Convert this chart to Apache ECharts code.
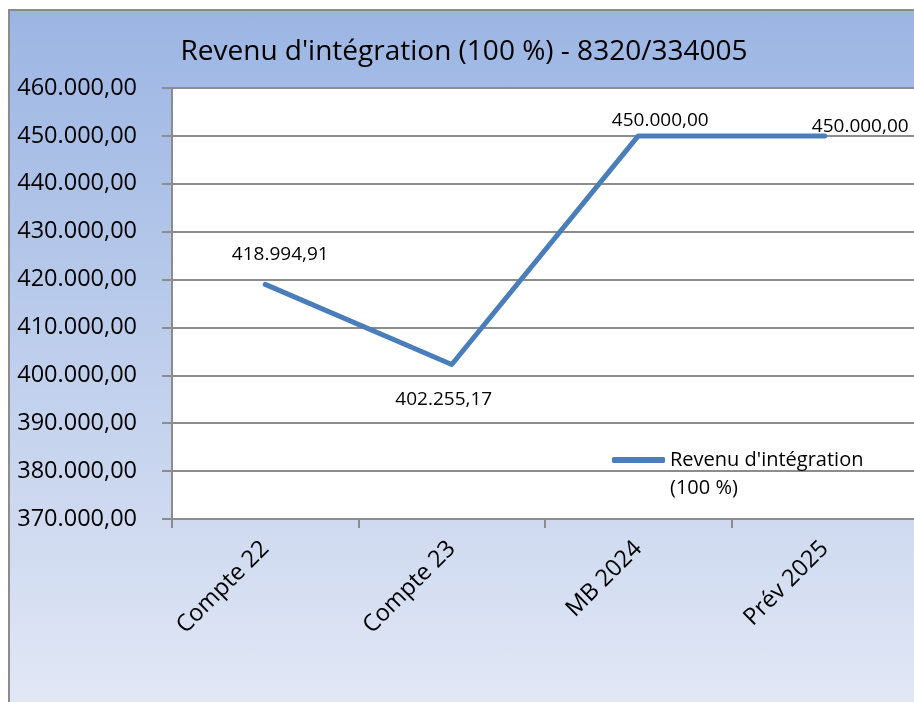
<!DOCTYPE html>
<html>
<head>
<meta charset="utf-8">
<script src="https://cdn.jsdelivr.net/npm/echarts@6/dist/echarts.min.js"></script>
<style>
  html, body { margin: 0; padding: 0; background: #fff; overflow: hidden; width: 914px; height: 702px; }
  #frame {
    position: absolute; left: 8px; top: 9px;
    border-left: 2px solid #8c8c8c; border-top: 2px solid #8c8c8c;
    width: 908px; height: 691px;
    background: linear-gradient(#9bb5e3, #e1e7f5);
  }
  #chart { width: 908px; height: 691px; }
</style>
</head>
<body>
<div id="frame"><div id="chart"></div></div>
<script>
const categories = ['Compte 22', 'Compte 23', 'MB 2024', 'Prév 2025'];
const revenue = [418994.91, 402255.17, 450000.00, 450000.00];
const seriesName = "Revenu d'intégration (100 %)";
const titleText = "Revenu d'intégration (100 %) - 8320/334005";

const fontFamily = '"Open Sans", sans-serif';

function fmt(v) {
  const parts = v.toFixed(2).split('.');
  const int = parts[0].replace(/\B(?=(\d{3})+(?!\d))/g, '.');
  return int + ',' + parts[1];
}

// label placement for each point (Excel-like)
const labelPos = [
  { position: 'top', offset: [15, -15] },
  { position: 'bottom', offset: [-8, 21] },
  { position: 'top', offset: [22, -1] },
  { position: 'right', offset: [-18, -9] }
];

const chart = echarts.init(document.getElementById('chart'));
chart.setOption({
  animation: false,
  backgroundColor: 'transparent',
  textStyle: { fontFamily: fontFamily },
  title: {
    text: titleText,
    left: 'center',
    top: 22,
    textStyle: { fontFamily: fontFamily, fontSize: 28, fontWeight: 'normal', color: '#000' }
  },
  legend: {
    left: 597,
    top: 402,
    itemWidth: 53,
    itemHeight: 6,
    itemGap: 4,
    icon: 'roundRect',
    textStyle: { fontFamily: fontFamily, fontSize: 20, color: '#000', lineHeight: 28 },
    // empty first line keeps the icon level with the first text line
    formatter: () => "\nRevenu d'intégration\n(100 %)",
    data: [seriesName]
  },
  grid: {
    left: 162, top: 77, right: 0, bottom: 183,
    show: true, backgroundColor: '#fff', borderWidth: 0
  },
  xAxis: {
    type: 'category',
    data: categories,
    boundaryGap: true,
    axisLine: { show: true, lineStyle: { color: '#8c8c8c', width: 2 } },
    axisTick: { show: true, length: 9, alignWithLabel: false, lineStyle: { color: '#8c8c8c', width: 2 } },
    axisLabel: { rotate: 45, margin: 26, fontSize: 23.5, color: '#000', fontFamily: fontFamily }
  },
  yAxis: {
    type: 'value',
    min: 370000,
    max: 460000,
    interval: 10000,
    axisLine: { show: true, lineStyle: { color: '#8c8c8c', width: 2 } },
    axisTick: { show: true, length: 10, lineStyle: { color: '#8c8c8c', width: 2 } },
    splitLine: { show: true, lineStyle: { color: '#8c8c8c', width: 2 } },
    axisLabel: { fontSize: 23.5, color: '#000', margin: 35, fontFamily: fontFamily, formatter: fmt }
  },
  series: [{
    name: seriesName,
    type: 'line',
    data: revenue.map((v, i) => ({ value: v, label: labelPos[i] })),
    showSymbol: true,
    symbol: 'circle',
    symbolSize: 0.1,
    lineStyle: { color: '#4a7ebb', width: 5, cap: 'round', join: 'round' },
    itemStyle: { color: '#4a7ebb' },
    label: {
      show: true,
      fontSize: 19,
      color: '#000',
      fontFamily: fontFamily,
      formatter: p => fmt(p.value)
    }
  }]
});
</script>
</body>
</html>
